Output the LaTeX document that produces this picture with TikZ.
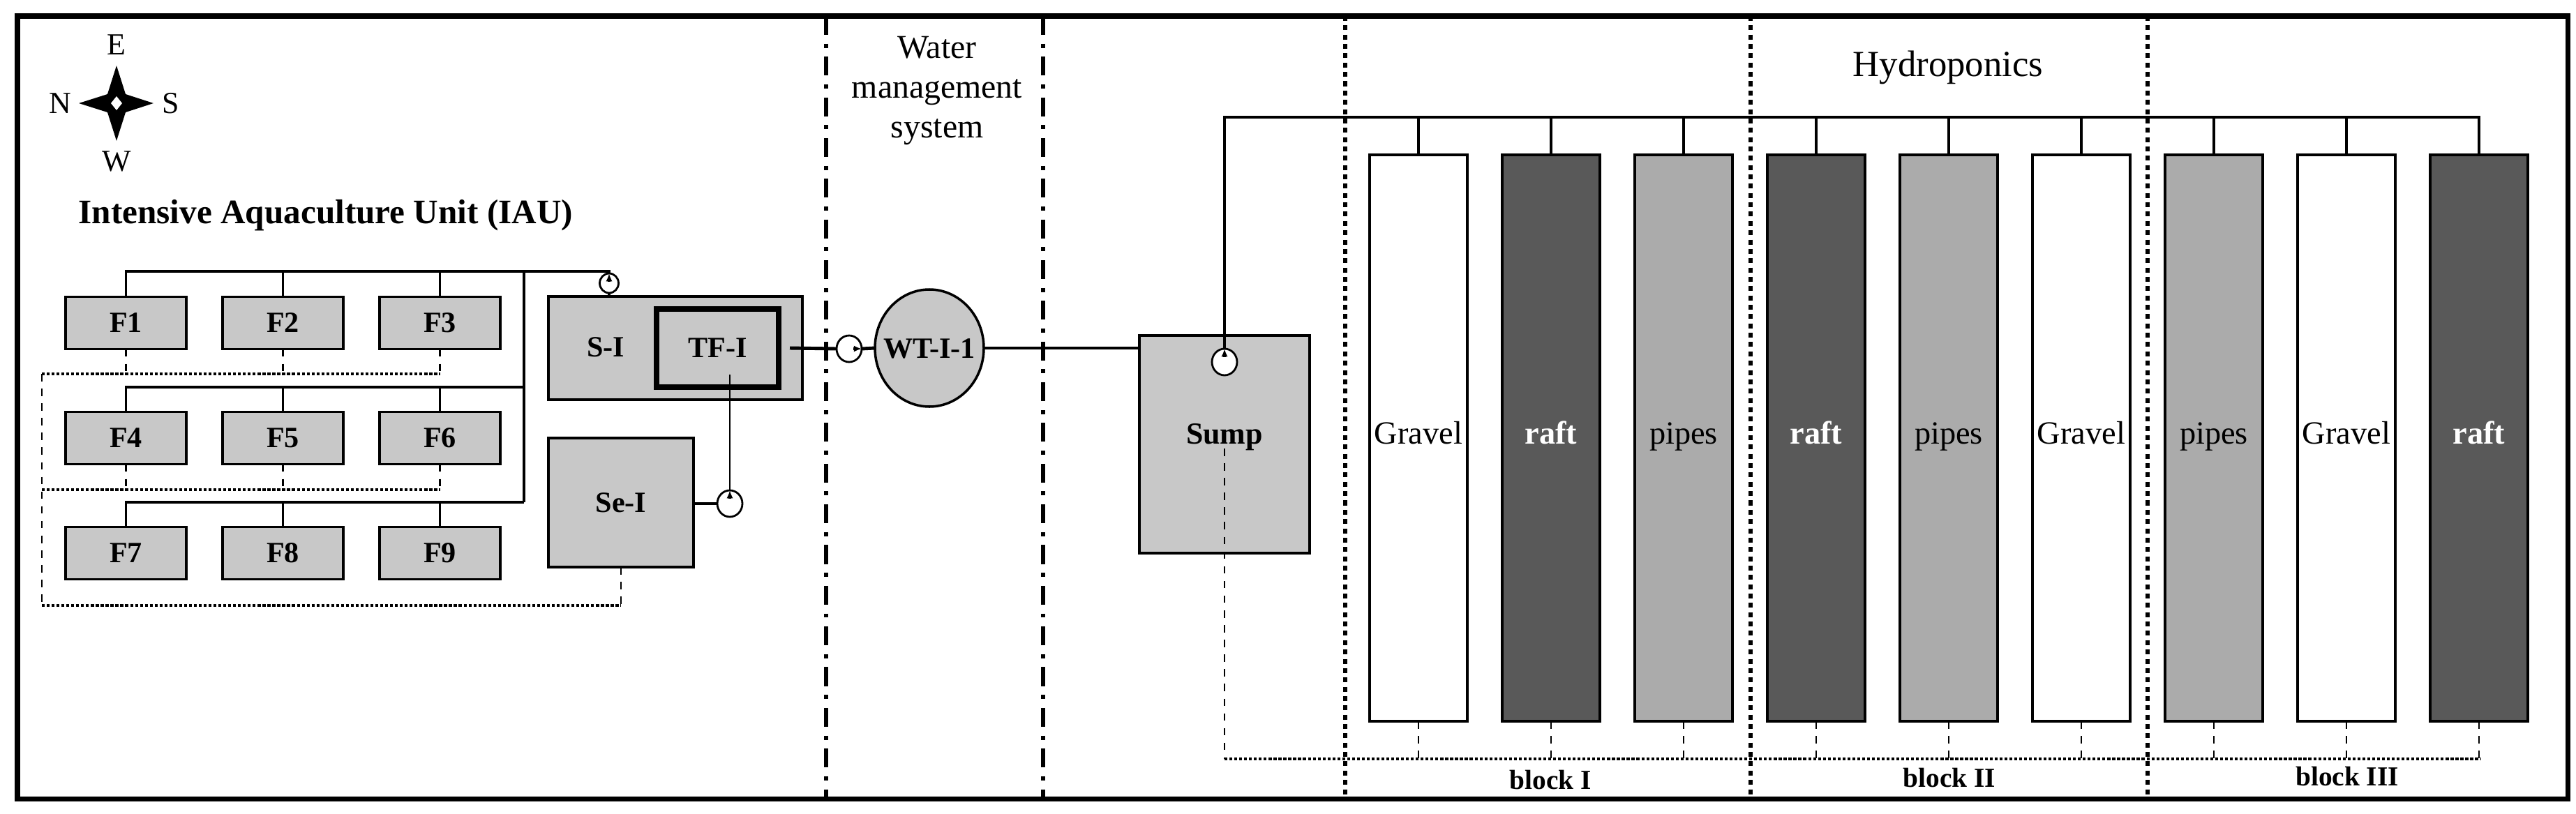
\documentclass[tikz,border=0pt]{standalone}
\usepackage{fontspec}
\setmainfont{Liberation Serif}
\usetikzlibrary{arrows.meta,shapes.geometric}
\definecolor{tankgray}{HTML}{C8C8C8}
\definecolor{raftgray}{HTML}{595959}
\definecolor{pipegray}{HTML}{ABABAB}
\begin{document}
\begin{tikzpicture}[
                            node distance=2.25cm,
                            >={Latex[length=3.2pt,width=2.6pt]},
                            tank/.style={rectangle,draw,fill=tankgray,line width=1pt,outer sep=0pt,font=\fontsize{12}{14}\selectfont\bfseries},
                            fishtank/.style={tank,minimum width=1.73cm,minimum height=0.75cm},
                            bed/.style={rectangle,draw,line width=1pt,outer sep=0pt,inner sep=0pt,minimum width=1.4cm,minimum height=8.12cm,text height=0.75em,text depth=0.25em,font=\fontsize{13.2}{15}\selectfont},
                            gravelbed/.style={bed,fill=white},
                            raftbed/.style={bed,fill=raftgray,text=white,font=\fontsize{13.2}{15}\selectfont\bfseries},
                            pipebed/.style={bed,fill=pipegray},
                            pump/.style={ellipse,draw,fill=white,line width=0.8pt,outer sep=0pt,inner sep=0pt,minimum width=0.36cm,minimum height=0.38cm},
                            title/.style={font=\fontsize{13.6}{16.2}\selectfont,align=center},
                            blocklabel/.style={font=\fontsize{11.2}{14}\selectfont\bfseries},
                            compassletter/.style={font=\fontsize{12.5}{14}\selectfont},
                            divide/.style={line width=1.7pt,dash pattern=on 7.7pt off 3.6pt on 1.7pt off 3.6pt},
                            blockline/.style={line width=1.7pt,dash pattern=on 2pt off 1.8pt},
                            pipe/.style={line width=0.9pt},
                            mainpipe/.style={line width=1.4pt},
                            drain/.style={line width=0.6pt,dashed},
                            drainbus/.style={line width=1.2pt,dash pattern=on 1.2pt off 0.8pt}
                        ]
                        \useasboundingbox (0,0) rectangle (36.92,-11.66);

                        % Frame and dividing lines
                        \node [rectangle,draw,line width=2pt,minimum width=36.55cm,minimum height=11.22cm,outer sep=0pt] (frame) at (18.525,-5.84) {};
                        \coordinate (D1top) at (11.84,-0.23);
                        \coordinate (D1bot) at (11.84,-11.45);
                        \coordinate (D2top) at (14.95,-0.23);
                        \coordinate (D2bot) at (14.95,-11.45);
                        \coordinate (D3top) at (19.28,-0.23);
                        \coordinate (D3bot) at (19.28,-11.45);
                        \coordinate (D4top) at (25.09,-0.23);
                        \coordinate (D4bot) at (25.09,-11.45);
                        \coordinate (D5top) at (30.78,-0.23);
                        \coordinate (D5bot) at (30.78,-11.45);
                        \draw [divide] (D1top) -- (D1bot);
                        \draw [divide] (D2top) -- (D2bot);
                        \draw [blockline] (D3top) -- (D3bot);
                        \draw [blockline] (D4top) -- (D4bot);
                        \draw [blockline] (D5top) -- (D5bot);

                        % Compass
                        \coordinate (compass) at (1.67,-1.48);
                        \fill [shift={(compass)}] (0,0.54) -- (0.13,0.13) -- (0.53,0) -- (0.13,-0.13) -- (0,-0.54) -- (-0.13,-0.13) -- (-0.54,0) -- (-0.13,0.13) -- cycle;
                        \fill [white,shift={(compass)}] (0,0.1) -- (0.08,0) -- (0,-0.1) -- (-0.08,0) -- cycle;
                        \node [compassletter] (E) at (1.67,-0.64) {E};
                        \node [compassletter] (W) at (1.67,-2.31) {W};
                        \node [compassletter] (N) at (0.86,-1.48) {N};
                        \node [compassletter] (S) at (2.45,-1.48) {S};

                        % Titles
                        \node [title,font=\fontsize{14}{16.2}\selectfont\bfseries] (IAU) at (4.67,-3.09) {Intensive Aquaculture Unit (IAU)};
                        \node [title] (WMS) at (13.43,-1.3) {Water\\management\\system};
                        \node [title,font=\fontsize{15}{18}\selectfont] (hydro) at (27.92,-0.97) {Hydroponics};

                        % Fish tanks
                        \node [fishtank] (F1) at (1.805,-4.63) {F1};
                        \node [fishtank,right of=F1] (F2) {F2};
                        \node [fishtank,right of=F2] (F3) {F3};
                        \node [fishtank,below of=F1,node distance=1.65cm] (F4) {F4};
                        \node [fishtank,right of=F4] (F5) {F5};
                        \node [fishtank,right of=F5] (F6) {F6};
                        \node [fishtank,below of=F4,node distance=1.65cm] (F7) {F7};
                        \node [fishtank,right of=F7] (F8) {F8};
                        \node [fishtank,right of=F8] (F9) {F9};

                        % Treatment blocks
                        \node [tank,minimum width=3.64cm,minimum height=1.48cm] (SI) at (9.68,-4.99) {};
                        \node [anchor=center,font=\fontsize{12}{14}\selectfont\bfseries] (SIlabel) at (8.68,-4.98) {S-I};
                        \node [tank,line width=2.2pt,minimum width=1.75cm,minimum height=1.12cm] (TFI) at (10.285,-4.99) {TF-I};
                        \node [tank,minimum width=2.08cm,minimum height=1.85cm] (SeI) at (8.9,-7.205) {Se-I};
                        \node [pump,minimum width=0.27cm,minimum height=0.28cm] (P1) at (8.73,-4.06) {};
                        \node [pump] (P2) at (10.46,-7.22) {};
                        \node [pump] (P3) at (12.17,-5.0) {};
                        \node [ellipse,draw,fill=tankgray,line width=1pt,outer sep=0pt,inner sep=0pt,minimum width=1.56cm,minimum height=1.68cm] (WT) at (13.32,-4.99) {};
                        \node [font=\fontsize{12}{14}\selectfont\bfseries] (WTlabel) at (13.32,-5.0) {WT-I-1};
                        \node [tank,minimum width=2.44cm,minimum height=3.12cm] (sump) at (17.55,-6.37) {};
                        \node [font=\fontsize{12.5}{14}\selectfont\bfseries] (sumplabel) at (17.55,-6.27) {Sump};
                        \node [pump] (P4) at (17.55,-5.19) {};

                        % Hydroponic beds
                        \node [gravelbed] (C1) at (20.33,-6.28) {Gravel};
                        \node [raftbed,node distance=1.9cm,right of=C1] (C2) {raft};
                        \node [pipebed,node distance=1.9cm,right of=C2] (C3) {pipes};
                        \node [raftbed,node distance=1.9cm,right of=C3] (C4) {raft};
                        \node [pipebed,node distance=1.9cm,right of=C4] (C5) {pipes};
                        \node [gravelbed,node distance=1.9cm,right of=C5] (C6) {Gravel};
                        \node [pipebed,node distance=1.9cm,right of=C6] (C7) {pipes};
                        \node [gravelbed,node distance=1.9cm,right of=C7] (C8) {Gravel};
                        \node [raftbed,node distance=1.9cm,right of=C8] (C9) {raft};

                        % Block labels
                        \node [blocklabel] (blockI) at (22.22,-11.18) {block I};
                        \node [blocklabel] (blockII) at (27.94,-11.15) {block II};
                        \node [blocklabel] (blockIII) at (33.64,-11.13) {block III};

                        % Fish tank supply
                        \coordinate (busA) at (7.51,-3.89);
                        \coordinate (busB) at (7.51,-5.55);
                        \coordinate (busC) at (7.51,-7.2);
                        \draw [pipe] (F1.north) |- (busA);
                        \draw [pipe] (F2.north) |- (busA);
                        \draw [pipe] (F3.north) |- (busA);
                        \draw [pipe] (F4.north) |- (busB);
                        \draw [pipe] (F5.north) |- (busB);
                        \draw [pipe] (F6.north) |- (busB);
                        \draw [pipe] (F7.north) |- (busC);
                        \draw [pipe] (F8.north) |- (busC);
                        \draw [pipe] (F9.north) |- (busC);
                        \draw [pipe] (busA) -- (busC);
                        \draw [pipe] (P1.north) |- (busA);
                        \draw [pipe] (P1.south) -- (SI.north -| P1.south);
                        \draw [->,pipe] ([yshift=-3.4pt]P1.north) -- (P1.north);

                        % Fish tank drain
                        \coordinate (drainA) at (0.6,-5.36);
                        \coordinate (drainB) at (0.6,-7.02);
                        \coordinate (drainC) at (0.6,-8.68);
                        \draw [drain] (F1.south) -- (F1.south |- drainA);
                        \draw [drain] (F2.south) -- (F2.south |- drainA);
                        \draw [drain] (F3.south) -- (F3.south |- drainA);
                        \draw [drain] (F4.south) -- (F4.south |- drainB);
                        \draw [drain] (F5.south) -- (F5.south |- drainB);
                        \draw [drain] (F6.south) -- (F6.south |- drainB);
                        \draw [drainbus] (drainA) -- (F3.south |- drainA);
                        \draw [drainbus,line width=0.9pt] (drainB) -- (F6.south |- drainB);
                        \draw [drain] (drainA) -- (drainC);
                        \draw [drainbus] (drainC) -- (SeI.south |- drainC);
                        \draw [drain] (SeI.south) -- (SeI.south |- drainC);

                        % Treatment connections
                        \coordinate (TFdrop) at (10.46,-5.37);
                        \coordinate (SIout) at (11.32,-4.99);
                        \draw [pipe,line width=0.7pt] (TFdrop) -- (P2.north);
                        \draw [mainpipe] (SeI.east |- P2.west) -- (P2.west);
                        \draw [->,pipe] ([yshift=-3.4pt]P2.north) -- (P2.north);
                        \draw [mainpipe] (SIout) -- (P3.west);
                        \draw [mainpipe] (P3.east) -- (WT.west);
                        \draw [->,pipe] ([xshift=-3.4pt]P3.east) -- (P3.east);
                        \draw [mainpipe] (WT.east) -- (sump.west |- WT.east);

                        % Hydroponic supply
                        \coordinate (supply) at (35.55,-1.68);
                        \draw [pipe] (P4.north) |- (supply);
                        \draw [->,pipe] ([yshift=-3.4pt]P4.north) -- (P4.north);
                        \draw [pipe] (C1.north) -- (C1.north |- supply);
                        \draw [pipe] (C2.north) -- (C2.north |- supply);
                        \draw [pipe] (C3.north) -- (C3.north |- supply);
                        \draw [pipe] (C4.north) -- (C4.north |- supply);
                        \draw [pipe] (C5.north) -- (C5.north |- supply);
                        \draw [pipe] (C6.north) -- (C6.north |- supply);
                        \draw [pipe] (C7.north) -- (C7.north |- supply);
                        \draw [pipe] (C8.north) -- (C8.north |- supply);
                        \draw [pipe] (C9.north) -- (C9.north |- supply);

                        % Hydroponic drain
                        \coordinate (sumpdrop) at (17.55,-6.43);
                        \coordinate (returnA) at (17.55,-10.88);
                        \coordinate (returnB) at (35.55,-10.88);
                        \draw [drain] (sumpdrop) -- (returnA);
                        \draw [drainbus] (returnA) -- (returnB);
                        \draw [drain] (C1.south) -- (C1.south |- returnA);
                        \draw [drain] (C2.south) -- (C2.south |- returnA);
                        \draw [drain] (C3.south) -- (C3.south |- returnA);
                        \draw [drain] (C4.south) -- (C4.south |- returnA);
                        \draw [drain] (C5.south) -- (C5.south |- returnA);
                        \draw [drain] (C6.south) -- (C6.south |- returnA);
                        \draw [drain] (C7.south) -- (C7.south |- returnA);
                        \draw [drain] (C8.south) -- (C8.south |- returnA);
                        \draw [drain] (C9.south) -- (C9.south |- returnA);
                    \end{tikzpicture}
\end{document}
